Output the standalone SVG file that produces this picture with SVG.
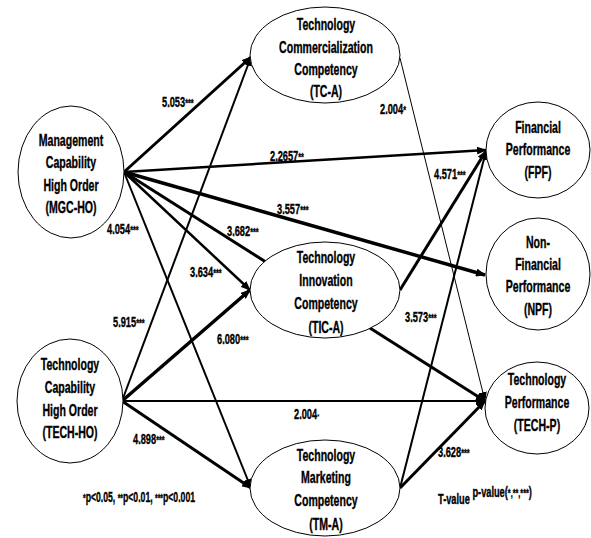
<svg xmlns="http://www.w3.org/2000/svg" width="591" height="538" viewBox="0 0 591 538">
<style>
text{font-family:"Liberation Sans",Arial,sans-serif;font-weight:bold;fill:#000;stroke:#000;stroke-width:0.35}
.n{font-size:16px;text-anchor:middle}
.l{font-size:14px}
.s{font-size:11px}
ellipse{fill:#fff;stroke:#000;stroke-width:1}
line{stroke:#000;fill:none}
.t1{stroke-width:1}
.t2{stroke-width:2}
.t25{stroke-width:2.5}
.t3{stroke-width:3}
</style>
<defs>
<marker id="ah" markerUnits="userSpaceOnUse" markerWidth="10" markerHeight="8" refX="9" refY="4" orient="auto">
<path d="M0,0 L10,4 L0,8 Z" fill="#000"/>
</marker>
</defs>
<rect width="591" height="538" fill="#fff"/>
<g id="connectors">
<line class="t3" x1="124" y1="172" x2="251" y2="57" marker-end="url(#ah)"/>
<line class="t25" x1="124" y1="172" x2="486" y2="150" marker-end="url(#ah)"/>
<line class="t3" x1="124" y1="172" x2="485" y2="275" marker-end="url(#ah)" style="stroke-width:3.5"/>
<line class="t3" x1="124" y1="172" x2="485" y2="401" marker-end="url(#ah)"/>
<line class="t25" x1="124" y1="172" x2="250" y2="290" marker-end="url(#ah)"/>
<line class="t2" x1="124" y1="172" x2="251" y2="488" marker-end="url(#ah)"/>
<line class="t2" x1="122" y1="401" x2="251" y2="57" marker-end="url(#ah)"/>
<line class="t3" x1="122" y1="401" x2="250" y2="290" marker-end="url(#ah)" style="stroke-width:3.5"/>
<line class="t2" x1="122" y1="401" x2="485" y2="401" marker-end="url(#ah)"/>
<line class="t3" x1="122" y1="401" x2="251" y2="488" marker-end="url(#ah)"/>
<line class="t1" x1="400" y1="58" x2="485" y2="401" marker-end="url(#ah)"/>
<line class="t3" x1="400" y1="290" x2="486" y2="151" marker-end="url(#ah)"/>
<line class="t2" x1="400" y1="488" x2="486" y2="151" marker-end="url(#ah)"/>
<line class="t3" x1="400" y1="488" x2="485" y2="401" marker-end="url(#ah)"/>
</g>
<g id="labels">
<text class="l" transform="translate(162,107) scale(0.66,1)">5.053<tspan class="s">***</tspan></text>
<text class="l" transform="translate(270,161) scale(0.66,1)">2.2657<tspan class="s">**</tspan></text>
<text class="l" transform="translate(277,214) scale(0.66,1)">3.557<tspan class="s">***</tspan></text>
<text class="l" transform="translate(227,236) scale(0.66,1)">3.682<tspan class="s">***</tspan></text>
<text class="l" transform="translate(190,277) scale(0.66,1)">3.634<tspan class="s">***</tspan></text>
<text class="l" transform="translate(107,234) scale(0.66,1)">4.054<tspan class="s">***</tspan></text>
<text class="l" transform="translate(380,114) scale(0.66,1)">2.004<tspan class="s">*</tspan></text>
<text class="l" transform="translate(434,179) scale(0.66,1)">4.571<tspan class="s">***</tspan></text>
<text class="l" transform="translate(405,322) scale(0.66,1)">3.573<tspan class="s">***</tspan></text>
<text class="l" transform="translate(113,327) scale(0.66,1)">5.915<tspan class="s">***</tspan></text>
<text class="l" transform="translate(217,344) scale(0.66,1)">6.080<tspan class="s">***</tspan></text>
<text class="l" transform="translate(294,419) scale(0.66,1)">2.004<tspan style="font-size:8px;stroke-width:0">*</tspan></text>
<text class="l" transform="translate(133,444) scale(0.66,1)">4.898<tspan class="s">***</tspan></text>
<text class="l" transform="translate(438,457) scale(0.66,1)">3.628<tspan class="s">***</tspan></text>
<text class="l" transform="translate(83,502) scale(0.62,1)"><tspan class="s">*</tspan>p&lt;0.05, <tspan class="s">**</tspan>p&lt;0.01, <tspan class="s">***</tspan>p&lt;0.001</text>
<text class="l" transform="translate(438,504) scale(0.66,1)">T-value <tspan dy="-7">p-value(<tspan class="s">*,**,***</tspan>)</tspan></text>
</g>
<g id="MGC-HO">
<ellipse cx="71" cy="172" rx="53" ry="66"/>
<text class="n" transform="translate(71,146) scale(0.66,1)">Management</text>
<text class="n" transform="translate(71,168) scale(0.66,1)">Capability</text>
<text class="n" transform="translate(71,191) scale(0.66,1)">High Order</text>
<text class="n" transform="translate(71,213) scale(0.66,1)">(MGC-HO)</text>
</g>
<g id="TECH-HO">
<ellipse cx="70" cy="401" rx="53" ry="62"/>
<text class="n" transform="translate(70,370) scale(0.66,1)">Technology</text>
<text class="n" transform="translate(70,393) scale(0.66,1)">Capability</text>
<text class="n" transform="translate(70,416) scale(0.66,1)">High Order</text>
<text class="n" transform="translate(70,438) scale(0.66,1)">(TECH-HO)</text>
</g>
<g id="TC-A">
<ellipse cx="325" cy="55" rx="75" ry="48"/>
<text class="n" transform="translate(326,30) scale(0.66,1)">Technology</text>
<text class="n" transform="translate(326,53) scale(0.66,1)">Commercialization</text>
<text class="n" transform="translate(326,75) scale(0.66,1)">Competency</text>
<text class="n" transform="translate(326,97) scale(0.66,1)">(TC-A)</text>
</g>
<g id="TIC-A">
<ellipse cx="325" cy="290" rx="75" ry="48"/>
<text class="n" transform="translate(326,263) scale(0.66,1)">Technology</text>
<text class="n" transform="translate(326,286) scale(0.66,1)">Innovation</text>
<text class="n" transform="translate(326,309) scale(0.66,1)">Competency</text>
<text class="n" transform="translate(326,333) scale(0.66,1)">(TIC-A)</text>
</g>
<g id="TM-A">
<ellipse cx="325" cy="488" rx="75" ry="48"/>
<text class="n" transform="translate(326,461) scale(0.66,1)">Technology</text>
<text class="n" transform="translate(326,483) scale(0.66,1)">Marketing</text>
<text class="n" transform="translate(326,506) scale(0.66,1)">Competency</text>
<text class="n" transform="translate(326,530) scale(0.66,1)">(TM-A)</text>
</g>
<g id="FPF">
<ellipse cx="538" cy="150" rx="52" ry="48"/>
<text class="n" transform="translate(538,133) scale(0.66,1)">Financial</text>
<text class="n" transform="translate(538,155) scale(0.66,1)">Performance</text>
<text class="n" transform="translate(538,178) scale(0.66,1)">(FPF)</text>
</g>
<g id="NPF">
<ellipse cx="538" cy="274" rx="52" ry="56"/>
<text class="n" transform="translate(538,248) scale(0.66,1)">Non-</text>
<text class="n" transform="translate(538,270) scale(0.66,1)">Financial</text>
<text class="n" transform="translate(538,292) scale(0.66,1)">Performance</text>
<text class="n" transform="translate(538,315) scale(0.66,1)">(NPF)</text>
</g>
<g id="TECH-P">
<ellipse cx="537" cy="408" rx="52" ry="46"/>
<text class="n" transform="translate(537,385) scale(0.66,1)">Technology</text>
<text class="n" transform="translate(537,408) scale(0.66,1)">Performance</text>
<text class="n" transform="translate(537,431) scale(0.66,1)">(TECH-P)</text>
</g>
</svg>
